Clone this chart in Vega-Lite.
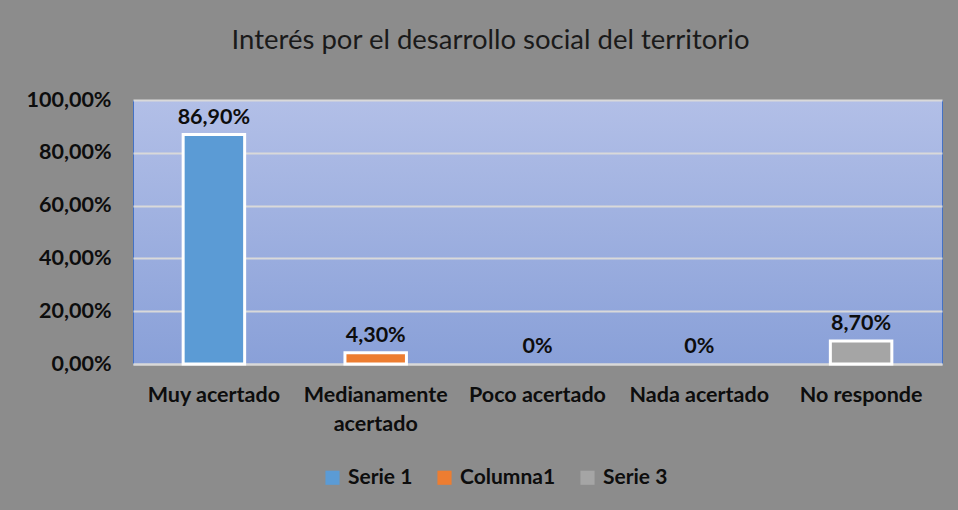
{
  "$schema": "https://vega.github.io/schema/vega-lite/v6.json",
  "autosize": {"type": "none"},
  "width": 809,
  "height": 264,
  "padding": {"left": 133, "top": 100, "right": 16, "bottom": 146},
  "background": "#8c8c8c",
  "title": {
    "text": "Interés por el desarrollo social del territorio",
    "font": "Lato",
    "fontSize": 27.5,
    "fontWeight": "normal",
    "color": "#1a1a1a",
    "anchor": "middle",
    "dx": -47,
    "offset": 35
  },
  "config": {
    "font": "Lato",
    "view": {
      "stroke": "#4472c4",
      "strokeWidth": 1,
      "fill": {
        "gradient": "linear",
        "x1": 0, "y1": 0, "x2": 0, "y2": 1,
        "stops": [
          {"offset": 0, "color": "#b2bfe7"},
          {"offset": 1, "color": "#89a0d8"}
        ]
      }
    },
    "axis": {
      "labelFont": "Lato",
      "labelFontWeight": "bold",
      "labelFontSize": 21.5,
      "labelColor": "#0d0d0d",
      "title": null
    }
  },
  "data": {
    "values": [
      {"categoria": "Muy acertado", "valor": 0.869, "serie": "Serie 1", "etiqueta": "86,90%"},
      {"categoria": "Medianamente acertado", "valor": 0.043, "serie": "Columna1", "etiqueta": "4,30%"},
      {"categoria": "Poco acertado", "valor": 0, "serie": "Serie 1", "etiqueta": "0%"},
      {"categoria": "Nada acertado", "valor": 0, "serie": "Serie 1", "etiqueta": "0%"},
      {"categoria": "No responde", "valor": 0.087, "serie": "Serie 3", "etiqueta": "8,70%"}
    ]
  },
  "encoding": {
    "x": {
      "field": "categoria",
      "type": "nominal",
      "sort": ["Muy acertado", "Medianamente acertado", "Poco acertado", "Nada acertado", "No responde"],
      "scale": {"paddingInner": 0, "paddingOuter": 0},
      "axis": {
        "labelAngle": 0,
        "ticks": false,
        "domainColor": "#d9d9d9",
        "domainWidth": 2,
        "labelPadding": 20,
        "labelLineHeight": 29,
        "labelExpr": "datum.value == 'Medianamente acertado' ? ['Medianamente', 'acertado'] : datum.value"
      }
    },
    "y": {
      "field": "valor",
      "type": "quantitative",
      "scale": {"domain": [0, 1]},
      "axis": {
        "values": [0, 0.2, 0.4, 0.6, 0.8, 1],
        "labelExpr": "replace(format(datum.value, '.2%'), '.', ',')",
        "ticks": false,
        "domain": false,
        "labelPadding": 22,
        "gridColor": "#d9d9d9",
        "gridWidth": 2
      }
    }
  },
  "layer": [
    {
      "transform": [{"filter": "datum.valor > 0"}],
      "mark": {"type": "bar", "width": {"band": 0.38}, "stroke": "white", "strokeWidth": 3},
      "encoding": {
        "color": {
          "field": "serie",
          "type": "nominal",
          "scale": {"domain": ["Serie 1", "Columna1", "Serie 3"], "range": ["#5b9bd5", "#ed7d31", "#a5a5a5"]},
          "legend": {
            "title": null,
            "orient": "none",
            "direction": "horizontal",
            "legendX": 189,
            "legendY": 367,
            "symbolType": "square",
            "symbolSize": 200,
            "symbolStrokeWidth": 0,
            "labelFont": "Lato",
            "labelFontSize": 21,
            "labelFontWeight": "bold",
            "labelColor": "#0d0d0d",
            "columnPadding": 21,
            "labelOffset": 5
          }
        }
      }
    },
    {
      "mark": {"type": "text", "baseline": "bottom", "dy": -6, "font": "Lato", "fontSize": 21.5, "fontWeight": "bold", "color": "#0d0d0d"},
      "encoding": {"text": {"field": "etiqueta"}}
    }
  ]
}
